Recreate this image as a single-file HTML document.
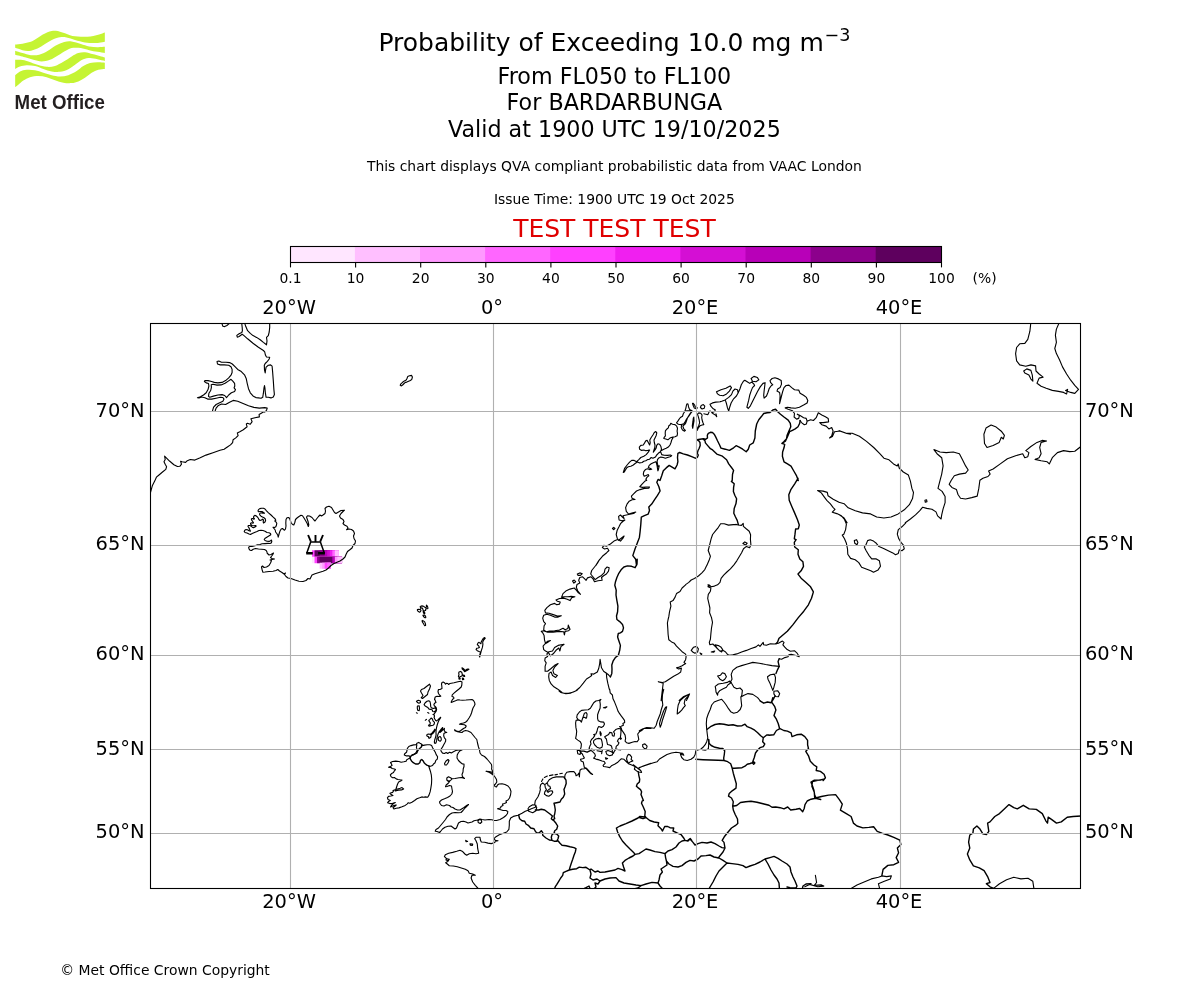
<!DOCTYPE html>
<html lang="en"><head><meta charset="utf-8">
<title>Probability of Exceeding 10.0 mg m-3</title>
<style>
html,body{margin:0;padding:0;background:#fff;}
body{width:1200px;height:1000px;overflow:hidden;}
svg{display:block;will-change:transform;}
text{font-family:"DejaVu Sans","Liberation Sans",sans-serif;fill:#000;}
.t18{font-size:25px;}.t16{font-size:22.22px;}.t14{font-size:19.44px;}.t10{font-size:13.89px;}
.mid{text-anchor:middle;}.end{text-anchor:end;}
.logo{font-family:"Liberation Sans","DejaVu Sans",sans-serif;font-weight:bold;fill:#231f20;}
.grid{stroke:#b0b0b0;stroke-width:1.1;fill:none;}
.coast{stroke:#000;stroke-width:1.12;fill:none;stroke-linejoin:round;stroke-linecap:round;}
.border{stroke:#000;stroke-width:1.4;fill:none;stroke-linejoin:round;stroke-linecap:round;}
</style></head><body>
<svg width="1200" height="1000" viewBox="0 0 1200 1000">
<rect width="1200" height="1000" fill="#fff"/>
<g id="logo">
<path d="M15.17,44.50 C16.39,44.36 19.89,44.11 22.50,43.67 C25.11,43.22 28.33,42.76 30.83,41.83 C33.33,40.90 35.42,39.33 37.50,38.08 C39.58,36.83 41.67,35.31 43.33,34.33 C45.00,33.36 46.11,32.81 47.50,32.25 C48.89,31.69 50.28,31.24 51.67,31.00 C53.06,30.76 54.44,30.72 55.83,30.83 C57.22,30.94 58.47,31.25 60.00,31.67 C61.53,32.08 63.33,32.75 65.00,33.33 C66.67,33.92 68.33,34.67 70.00,35.17 C71.67,35.67 73.19,36.06 75.00,36.33 C76.81,36.61 78.75,36.78 80.83,36.83 C82.92,36.89 85.42,36.81 87.50,36.67 C89.58,36.53 91.39,36.36 93.33,36.00 C95.28,35.64 97.25,35.08 99.17,34.50 C101.08,33.92 103.89,32.83 104.83,32.50 L104.83,41.67 C103.89,41.83 101.08,42.43 99.17,42.67 C97.25,42.90 95.69,43.11 93.33,43.08 C90.97,43.06 88.06,43.01 85.00,42.50 C81.94,41.99 78.06,40.83 75.00,40.00 C71.94,39.17 69.17,37.96 66.67,37.50 C64.17,37.04 62.22,36.94 60.00,37.25 C57.78,37.56 55.83,38.22 53.33,39.33 C50.83,40.44 47.64,42.39 45.00,43.92 C42.36,45.44 40.14,47.32 37.50,48.50 C34.86,49.68 31.67,50.72 29.17,51.00 C26.67,51.28 24.83,50.69 22.50,50.17 C20.17,49.64 16.39,48.22 15.17,47.83Z" fill="#c5f433"/>
<path d="M15.17,50.83 C16.39,51.21 19.89,52.36 22.50,53.08 C25.11,53.81 28.06,54.89 30.83,55.17 C33.61,55.44 36.39,55.44 39.17,54.75 C41.94,54.06 44.72,52.53 47.50,51.00 C50.28,49.47 53.06,47.08 55.83,45.58 C58.61,44.08 61.53,42.69 64.17,42.00 C66.81,41.31 68.89,41.10 71.67,41.42 C74.44,41.74 77.92,43.08 80.83,43.92 C83.75,44.75 86.39,45.86 89.17,46.42 C91.94,46.97 94.89,47.18 97.50,47.25 C100.11,47.32 103.61,46.90 104.83,46.83 L104.83,53.08 C103.61,52.87 100.11,52.32 97.50,51.83 C94.89,51.35 91.94,50.79 89.17,50.17 C86.39,49.54 83.47,48.47 80.83,48.08 C78.19,47.69 75.69,47.49 73.33,47.83 C70.97,48.18 69.17,48.94 66.67,50.17 C64.17,51.39 61.11,53.57 58.33,55.17 C55.56,56.76 52.78,58.71 50.00,59.75 C47.22,60.79 44.44,61.42 41.67,61.42 C38.89,61.42 36.11,60.44 33.33,59.75 C30.56,59.06 28.03,58.08 25.00,57.25 C21.97,56.42 16.81,55.17 15.17,54.75Z" fill="#c5f433"/>
<path d="M15.17,59.75 C16.11,59.75 18.64,59.47 20.83,59.75 C23.03,60.03 25.56,60.58 28.33,61.42 C31.11,62.25 34.44,63.85 37.50,64.75 C40.56,65.65 43.75,66.63 46.67,66.83 C49.58,67.04 52.22,66.83 55.00,66.00 C57.78,65.17 60.56,63.43 63.33,61.83 C66.11,60.24 69.17,57.88 71.67,56.42 C74.17,54.96 76.11,53.78 78.33,53.08 C80.56,52.39 82.50,52.04 85.00,52.25 C87.50,52.46 90.03,53.46 93.33,54.33 C96.64,55.21 102.92,56.97 104.83,57.50 L104.83,61.00 C103.61,60.72 99.97,59.82 97.50,59.33 C95.03,58.85 92.36,58.08 90.00,58.08 C87.64,58.08 85.56,58.43 83.33,59.33 C81.11,60.24 79.17,61.83 76.67,63.50 C74.17,65.17 71.11,67.94 68.33,69.33 C65.56,70.72 62.78,71.49 60.00,71.83 C57.22,72.18 54.44,71.90 51.67,71.42 C48.89,70.93 46.11,69.82 43.33,68.92 C40.56,68.01 37.78,66.62 35.00,66.00 C32.22,65.38 29.17,65.10 26.67,65.17 C24.17,65.24 21.92,65.79 20.00,66.42 C18.08,67.04 15.97,68.50 15.17,68.92Z" fill="#c5f433"/>
<path d="M15.17,75.17 C15.97,74.54 18.08,72.32 20.00,71.42 C21.92,70.51 24.17,69.96 26.67,69.75 C29.17,69.54 32.22,69.68 35.00,70.17 C37.78,70.65 40.56,71.83 43.33,72.67 C46.11,73.50 48.89,74.54 51.67,75.17 C54.44,75.79 57.22,76.42 60.00,76.42 C62.78,76.42 65.56,76.07 68.33,75.17 C71.11,74.26 74.17,72.53 76.67,71.00 C79.17,69.47 81.11,67.32 83.33,66.00 C85.56,64.68 87.64,63.71 90.00,63.08 C92.36,62.46 95.03,62.32 97.50,62.25 C99.97,62.18 103.61,62.60 104.83,62.67 L104.83,68.92 C103.75,69.06 100.53,69.12 98.33,69.75 C96.14,70.38 93.89,71.35 91.67,72.67 C89.44,73.99 87.22,76.21 85.00,77.67 C82.78,79.12 80.56,80.51 78.33,81.42 C76.11,82.32 74.17,82.88 71.67,83.08 C69.17,83.29 66.11,83.15 63.33,82.67 C60.56,82.18 57.78,81.07 55.00,80.17 C52.22,79.26 49.44,77.94 46.67,77.25 C43.89,76.56 41.11,76.00 38.33,76.00 C35.56,76.00 32.50,76.49 30.00,77.25 C27.50,78.01 25.28,79.33 23.33,80.58 C21.39,81.83 19.69,83.64 18.33,84.75 C16.97,85.86 15.69,86.83 15.17,87.25Z" fill="#c5f433"/>
<text class="logo" x="14.6" y="108.8" font-size="19.5" textLength="90.3" lengthAdjust="spacingAndGlyphs">Met Office</text>
</g>
<text class="t18 mid" x="614.4" y="51">Probability of Exceeding 10.0 mg m<tspan font-size="17.5" dx="0.8" dy="-10.4">−3</tspan></text>
<text class="t16 mid" x="614.4" y="83.8">From FL050 to FL100</text>
<text class="t16 mid" x="614.4" y="110.1">For BARDARBUNGA</text>
<text class="t16 mid" x="614.4" y="136.5">Valid at 1900 UTC 19/10/2025</text>
<text class="t10 mid" x="614.4" y="170.8">This chart displays QVA compliant probabilistic data from VAAC London</text>
<text class="t10 mid" x="614.4" y="203.9">Issue Time: 1900 UTC 19 Oct 2025</text>
<text class="t18 mid" x="614.4" y="237" style="fill:#e00000">TEST TEST TEST</text>
<rect x="290.50" y="246.5" width="651.00" height="16.0" fill="#ffe6ff"/>
<rect x="354.90" y="246.5" width="586.60" height="16.0" fill="#ffbfff"/>
<rect x="420.00" y="246.5" width="521.50" height="16.0" fill="#ff99ff"/>
<rect x="485.10" y="246.5" width="456.40" height="16.0" fill="#ff66ff"/>
<rect x="550.20" y="246.5" width="391.30" height="16.0" fill="#ff40ff"/>
<rect x="615.30" y="246.5" width="326.20" height="16.0" fill="#f01ff0"/>
<rect x="680.40" y="246.5" width="261.10" height="16.0" fill="#d40fd4"/>
<rect x="745.50" y="246.5" width="196.00" height="16.0" fill="#b800b8"/>
<rect x="810.60" y="246.5" width="130.90" height="16.0" fill="#8c008c"/>
<rect x="875.70" y="246.5" width="65.80" height="16.0" fill="#5e005e"/>
<rect x="290.5" y="246.5" width="651.0" height="16.0" fill="none" stroke="#000" stroke-width="1.1"/>
<line x1="290.50" y1="262.5" x2="290.50" y2="267.4" stroke="#000" stroke-width="1.1"/>
<text class="t10 mid" x="290.50" y="282.8">0.1</text>
<line x1="355.60" y1="262.5" x2="355.60" y2="267.4" stroke="#000" stroke-width="1.1"/>
<text class="t10 mid" x="355.60" y="282.8">10</text>
<line x1="420.70" y1="262.5" x2="420.70" y2="267.4" stroke="#000" stroke-width="1.1"/>
<text class="t10 mid" x="420.70" y="282.8">20</text>
<line x1="485.80" y1="262.5" x2="485.80" y2="267.4" stroke="#000" stroke-width="1.1"/>
<text class="t10 mid" x="485.80" y="282.8">30</text>
<line x1="550.90" y1="262.5" x2="550.90" y2="267.4" stroke="#000" stroke-width="1.1"/>
<text class="t10 mid" x="550.90" y="282.8">40</text>
<line x1="616.00" y1="262.5" x2="616.00" y2="267.4" stroke="#000" stroke-width="1.1"/>
<text class="t10 mid" x="616.00" y="282.8">50</text>
<line x1="681.10" y1="262.5" x2="681.10" y2="267.4" stroke="#000" stroke-width="1.1"/>
<text class="t10 mid" x="681.10" y="282.8">60</text>
<line x1="746.20" y1="262.5" x2="746.20" y2="267.4" stroke="#000" stroke-width="1.1"/>
<text class="t10 mid" x="746.20" y="282.8">70</text>
<line x1="811.30" y1="262.5" x2="811.30" y2="267.4" stroke="#000" stroke-width="1.1"/>
<text class="t10 mid" x="811.30" y="282.8">80</text>
<line x1="876.40" y1="262.5" x2="876.40" y2="267.4" stroke="#000" stroke-width="1.1"/>
<text class="t10 mid" x="876.40" y="282.8">90</text>
<line x1="941.50" y1="262.5" x2="941.50" y2="267.4" stroke="#000" stroke-width="1.1"/>
<text class="t10 mid" x="941.50" y="282.8">100</text>
<text class="t10" x="972.6" y="282.8">(%)</text>
<clipPath id="mapclip"><rect x="150.5" y="323.5" width="930.0" height="565.0"/></clipPath>
<g clip-path="url(#mapclip)">
<g id="cells">
<rect x="312.00" y="550.3" width="26.90" height="6.90" fill="#ff40ff"/>
<rect x="314.54" y="550.3" width="24.36" height="6.90" fill="#5e005e"/>
<rect x="319.62" y="550.3" width="19.28" height="6.90" fill="#8c008c"/>
<rect x="324.70" y="550.3" width="14.20" height="6.90" fill="#b800b8"/>
<rect x="327.24" y="550.3" width="11.66" height="6.90" fill="#d40fd4"/>
<rect x="329.78" y="550.3" width="9.12" height="6.90" fill="#f01ff0"/>
<rect x="332.32" y="550.3" width="6.58" height="6.90" fill="#ff66ff"/>
<rect x="334.86" y="550.3" width="4.04" height="6.90" fill="#ffbfff"/>
<rect x="312.00" y="556.7" width="30.04" height="6.50" fill="#ffe6ff"/>
<rect x="314.54" y="556.7" width="27.50" height="6.50" fill="#ff40ff"/>
<rect x="317.08" y="556.7" width="24.96" height="6.50" fill="#8c008c"/>
<rect x="319.62" y="556.7" width="22.42" height="6.50" fill="#5e005e"/>
<rect x="332.32" y="556.7" width="9.72" height="6.50" fill="#b800b8"/>
<rect x="334.86" y="556.7" width="7.18" height="6.50" fill="#ff99ff"/>
<rect x="337.40" y="556.7" width="4.64" height="6.50" fill="#ffbfff"/>
<rect x="319.62" y="562.7" width="11.22" height="6.00" fill="#ffbfff"/>
<rect x="322.16" y="562.7" width="8.68" height="6.00" fill="#ff99ff"/>
<rect x="324.70" y="562.7" width="6.14" height="6.00" fill="#ff40ff"/>
<rect x="327.24" y="562.7" width="3.60" height="6.00" fill="#ff66ff"/>
</g>
<path class="coast" d="M222,323.9 222.9,326.2 224.7,326.6 226.9,325.5 228.9,323.9
M244.9,323.9 245.8,326.6 247.6,330.7 250.3,333.4 253,335.6 256.6,337.4 260.2,339.7 263.4,342.4 266.5,344.8 267,341 266.5,337.4 268.3,335.6 269.2,332 269.7,327.5 269.7,323.9
M241.8,323.9 242.2,327.5 242.4,330.7 241.8,332.5 239.1,333.8 236.8,335.4 237.3,337.2 239.1,336.5 242.2,334.3 244,335.6 247.6,338.8 253,343.3 258.4,347.3 263.4,350.5 264.7,351.8 265.4,355 266.5,357 269.7,357.2 269.2,359 267.4,361.3 265.2,363.5 264.3,365.3 264.5,369.8 265.2,373 265.6,369.8 266.1,367.1 268.3,365.3 270.6,364.9 272.1,366.2 272.6,371.6 273.3,380.6 273.9,389.6 274.4,394.6 273.3,397 271,397.9 268.3,397.3 266.1,397.3 265.4,393.2 264.9,387.8 264.5,385.6 264,387.8 263.4,393.2 262.7,397.3 261.1,398.2 258.4,397.9 256.2,397.7 253,395.9 250.3,392.8 248.5,388.7 247.2,383.3 246.3,378.8 244.5,374.8 241.3,371.6 237.7,369.4 235,366.7 232.3,364 229.6,362.6 226,362.2 221.5,362.2 218.8,361 217,361.5 217.5,364 220.2,364.9 224.2,364.9 228.7,365.3 231,366.7 232.1,369.4 232.1,372.5 231,375.2 228.7,377.9 225.6,380.6 222,382.4 217.9,382.9 214.3,382.4 211.6,381.5 208,380.6 204.9,380.6 204.4,381.5 206.2,382.9 208.5,383.5 208.9,386 208,389.6 206.2,392.8 203.5,395 200.4,396.8 197.4,397.7 199,397.9 201.7,397 204.9,397.7 207.6,399.1 211.6,399.1 216.1,398.2 220.2,397.3 222.9,397.5 224,399.1 222.9,401.3 219.7,402.7 216.1,404.5 213.6,407.2 212.5,410.8
M231,379.3 232.8,381.1 234.6,383.3 234.8,386 234.1,387.8 235.5,389.6 234.6,391.4 231.4,392.8 228.7,395 226.5,397.7 224.7,395.5 222,394.6 217.9,395 213.4,396.1 209.8,397.3 208.5,396.4 208.9,393.2 210.7,390.5 211.4,387.4 211.2,384.7 213,384.2 217,385.1 221.1,384.9 225.1,383.3 228.3,381.1Z
M215.2,410.8 216.1,408.1 218.4,405.4 221.5,404 225.6,404.5 229.6,402.2 233.2,400.4 237.7,401.3 243.1,403.6 248.5,405.8 253.9,407.4 259.3,408.1 264.7,407.6 267.2,408.1 266.5,410.3 264.7,412.1
M263.8,411.7 259.1,414.6 259.4,416.9 255,417.7 250.9,418.7 252.1,421.6 250.3,424.3 247.4,423.3 246.3,423.9 247.1,426.8 243.3,429.8 239.8,431.7 237.3,432.9 238.1,435.6 235.8,437.9 233.1,439.7 232.6,442.6 230.5,444.9 227,447.3 224.1,449.2 220,450.2 213,452.7 206,455.1 200.2,457.8 194.9,460.1 190.3,459.5 187.3,460.7 185.6,462.4 182.1,461.8 180.6,461.3 181.5,464.2 179.8,466.3 177.4,466.5 173.9,464.8 169.8,461.3 166.3,457.8 164.6,456.2 165.2,459.5 164,461.8 165.2,464.2 166.6,466.7 165.8,469.4 162.8,471.8 159.3,474.7 156.4,477.2 154.7,481.1 152.3,485.8 151.2,489.8 150.4,492.8
M263.5,508.2 265,509 266.5,510.8 268.5,512.8 271,515 273.2,517.2 275.2,519 275.8,520.2 274.8,521 276,522 276.8,523.2 276.5,525 275.8,526.8 274.5,527.5 273,527.2 274,528.5 275.2,530 275.6,532 276.8,533.5 277.8,535.2 278.2,537.2 278.5,536 279.2,533.5 280,531 281.2,529 282.5,528.5 283.5,529.5 284.5,530.2 285.5,529 286,526 285.8,523 286,519.5 287,517.8 288.5,517.5 289.3,518 290,519.5 291,522.5 292.5,524.5 293.8,525 294.8,522.5 295.5,519.5 297,518 299,516.5 301,515.2 302.5,515.8 304,518 305.5,520.5 307.2,523.5 308.3,526.5 308.8,524.8 308.2,522 307.2,519 306.5,517 307.5,515.8 309.5,516 312,517.5 314,520 315,521 316.5,519 318.5,516.5 320,515 321.5,516 323,515 325,513.5 325.5,511 325,508.5 326.5,507 329,506.2 331.5,507.5 333,510 334.5,512.5 336,513.5 338.5,512 341,510.5 344.5,510.2 343,511.5 341,513.5 339.5,516 340.5,518 343,519.5 344,521.5 343,523.5 344.5,525 347,526.2 348,528 346.5,529.8 349,529 351.5,529.5 353.5,531 354.5,533.5 353.5,536 354,538.5 355.5,541 355,543.5 353,545.5 352,548 349.5,550 347.5,551.5 346,554.5 345,557 343,559 340,561 337,562.2 334,563.5 331,565.5 328.5,568 326,570 323,571.2 319,572.5 315,573.8 312,575 311,577 310,579 308,578.5 306,580.5 303,581.5 299,581.2 295,580 291,578.5 288,578 286,576.5 284.5,574.5 285.5,573 284,574 282,572.5 279.5,571 277.8,569.5 276,570.5 273,571.2 269,571.5 265,572 262.8,572.2 262.2,570 261.5,567 262.5,566 264,567.5 266.5,567 269,565.5 270.5,563 271.5,560.5 270,560 272,559.5 274.5,559 272,558.5 270.5,557.5 272.5,555 273.5,553 271,554.5 269,555 267.5,553.5 267.2,553.5 267,552 266.2,550.5 264.5,549.5 261.5,549.2 258.5,549 255.5,548.5 253.2,549.2 251.5,550.5 250,550.2 249,548.8 248.6,547.2 249.8,546.5 252,546.4 255,545.8 257.5,544.8 260,544.5 262,543.8 265,543.6 268,543.4 270,543.5 271.2,543 271.8,541.5 271.5,540 270.5,540.8 269.2,541.4 267,541.2 265,540.5 264.2,539.5 265.2,538.2 267.2,537 269.2,535.8 270.8,534.8 270.5,533.5 269,532.8 267,532.5 265,531.2 263,530.5 261,530.2 259,530.5 257,531.5 254.5,532.5 252.2,533.5 250.5,534.4 249,534 247,533 245,532.5 244.2,531.5 244.8,530.2 246,529.5 247.5,529.8 249,530.8 250.5,531.2 249.5,529.2 249,527.8 248,526.5 248.2,525.5 249.8,525.5 251.2,526.2 252.2,527.2 253.5,527.8 255,527 256.2,526 255.5,525.5 253.8,525.8 252,525.5 250.8,524.5 250.5,523.2 251.8,522.8 252.8,523.2 253.5,522.8 252.5,521.2 251.5,520 251.4,518.8 252.5,518.5 253.8,519.2 254.5,518.8 253.5,517.5 253.8,516.2 254.8,515.4 256,515.8 257.2,516.8 258.2,518 258.9,519.5 260,520.5 261.5,520 262.5,519.2 263.5,520 263.2,521.8 263.5,523 265,522 265.6,520.5 265.2,518.8 264,517.8 262.5,517.1 261,516.2 260,515.2 259.5,514 260.2,513 261.5,512.9 263,513.2 264.5,513.2 263.5,512.5 262,511.5 260,511.5 258.6,511.8 258,511 258.5,509.6 259.8,508.6 261.5,508.2Z
M411.6,375.4 412.4,377 411.8,379.4 410.4,380.5 408.6,381.2 406.8,382.1 405.3,382.4 404.1,383.5 402.6,385 401.4,385.9 400.2,385.3 401.1,383.6 402.6,382.3 404.4,380.9 406.2,380 407.1,378.2 407.7,376.6 409.5,375.8Z
M420.2,606.5 422,605.9 423.5,606.3 425,607.4 425.9,608.1 426.4,606.9 426.4,605.1 427.1,605.7 427.7,606.9 427.9,608.4 427.1,608.7 426.2,608.7 425.6,609.6 425.6,610.5 424.1,610.7 423.2,610.5 422.8,609 422.3,608 421.4,607.8 420.8,608.7 420.5,607.5Z
M417.4,609.6 418.7,609.3 420.2,609.6 421,610.4 420.5,611.6 419.6,612.3 418.4,611.6 417.5,610.7Z
M423.2,611.4 424.4,612 424.9,613.2 424.1,613.7 423.4,612.6Z
M422.9,615.2 424.4,615 425.6,616.2 425.8,617.7 424.7,617.7 423.5,616.5Z
M422.2,620.4 423.5,620.9 424.7,621.9 425.5,624 425.6,625.5 424.7,625.7 423.8,624.3 422.9,622.8 422.2,621.6Z
M479.7,657 480.3,654.6 481.2,651 482.4,647.4 482.9,644.4 482.7,642 483.6,640.2 485.1,638.4 484.5,637.5 483.3,638.4 482.1,640.2 481.2,642 480.9,643.8 479.7,642.9 478.8,642.3 477.9,643.2 477.3,644.7 478.5,645.6 479.4,647.4 478.2,648 476.7,648.3 476.1,649.5 477.3,650.7 479.1,651.6 480.6,652.2 480,654 479.4,656.1Z
M483.5,640.1 485.2,638.2
M459,672 460.5,671.4 461.7,672.3 462.3,674.1 462,675.9 460.5,676.5 459,677.4 458.4,676.2 459,674.7 458.7,673.2Z
M462.3,678 463.5,678.3 463.8,679.5 462.6,679.8Z
M459,678 460.2,678.3 459.9,679.2 458.9,678.9Z
M462,667.8 463.5,668.7 464.7,670.2 464.4,671.4 465,670.8 466.2,669.6 468,668.9 468.9,669.3 467.4,670.2 465.9,671.1 464.7,671.7 463.5,670.2 462.3,669Z
M462.9,675 464.4,675.3 464.7,676.5 463.5,676.2Z
M441.5,684 442,682.5 443.2,682 444.8,683 445.5,684.2 446.5,683.3 447.8,683.5 448.5,684.5 450,683.5 454,682.8 458,681.8 460.5,681.2 462,682 461.8,685 461.2,687 459,689 456.5,691 454,693.2 452.2,694.8 452,696.5 453.5,697 454,698.2 452.5,699.5 451.5,701.2 451.2,702.5 453,701.8 455.5,700.8 458,699.7 460,700 462.5,700.2 466,700 469.5,699.7 472,699.5 473.5,700.5 474.5,702.2 475,704.2 474.2,706 473,708 472.2,710.5 471.5,713 470.5,715.5 469,718 467.2,720.8 465.5,722.2 463.5,723 461,723.5 459.5,724.2 462,724.5 464.5,724.8 466.2,726 465.5,727.5 463.5,728.5 461.8,729.8 460.5,730.8 459,731.5 456.5,731 454.5,729.8 455,730.8 457.5,731.8 460,732.2 462,732.5 463.5,731.2 465.5,730.5 468,731 471,732.5 473,735 475,737.5 476.8,739.5 477.5,743 478.5,747 479,748.5 479.5,750 480,753 481.5,755 484.5,756.5 487,759 489.5,762 491.5,764.5 491.8,767 491.6,769 492.5,771 493.8,774 491.5,772 489,771.5 486,771.2 489,772.2 491.2,773.5 493.5,775.2 495,777 496.5,779.5 496.8,782 495.5,784 494.2,785 495,786.5 496.5,787 497.5,785 499,784 502,783.8 505,784.5 508,786 510,788.5 511,791.5 510.5,795 509.5,798 508,800 506,801 506.5,802.5 504.5,803.5 502.5,804 503,805.5 501,806.5 500.5,808 497.5,808.8 500,809.5 503,810.5 506,810.5 507.8,811.5 507.5,813.5 506,815.5 503.5,817.5 500,819.5 496.5,820.5 494,820.5 492,819.8 489,819.5 485,820 482,819.5 480,819 477.5,820 474,820.8 472,822 470,822.5 468,823 466,822 463.5,821.2 461,821.5 458.5,823 457.5,825.5 456.5,828 455,829 453,827.5 451,826 448,826.2 445,827.2 442.5,829 440.5,831.5 439.5,832.5 437,831.5 435.2,831.2 436,829.5 438.5,828 441,825 443.5,822 445.5,819.5 447,817 449.5,814.5 452,813 455,812.5 458.5,812.8 461,812.5 463,810.5 465.5,807.5 468.5,804.5 467,805.2 464,807.5 460,810 457.5,810 455,809 453,807.5 451,807 449.5,805.5 446.5,804.8 444,806 441.5,805.5 440,803.5 439.5,801.8 441.5,800 444.5,798.8 447.5,797.5 450,796 451.8,794 452.5,791.5 452,789 451.5,786 449.5,785.5 447,786.5 445.5,786.8 446.2,785 448.5,783 450,781 448.5,781.5 446.8,780 446.8,778 448.5,776.8 450.5,777.8 452,778.8 455,778.5 459,777.8 461.5,777.5 464.5,778.5 462.5,776.8 462,774.5 463,772 463.2,769 464,766.5 464,764 462.5,764 460.5,762.5 458.5,760.5 457,758 457.2,755 458.5,752.5 460,750.8 462,750 458.8,749.9 455.8,750.5 453.4,751.7 451.3,752.9 449.5,752.3 447.7,753.5 446.2,752.5 444.4,753.5 442.6,753.1 441.2,751.4 440.8,749.9 441.4,748.7 442.6,746.9 443.7,744.8 444.7,743 445.6,741.2 445.7,739.4 444.4,737.9 443.7,735.8 443.9,733.5 445.1,732.7 446.8,732.5 445,731.7 444.2,730.4 444.4,728.4 443.1,729.7 441.4,731.3 439.9,732.5 440.8,730.7 442.5,728.6 442.7,727.5 441.4,728.9 438.9,732.2 438.1,734 437.4,736.1 436.9,738.5 436.6,740.9 436,742.9 434.9,743.4 434.3,742.1 434.7,740 435.5,737.3 436.1,734.9 436,732.8 436.1,730.1 436.6,727.4 437.2,725 438.1,722.3 439,720.2 440.2,718.4 440.7,717.3 439.6,718.1 438.1,719.6 436.6,720.9 435.7,720.5 434.8,719 434.1,717.5 434.5,716 434.2,715.1 433,714.5 434.2,713.9 435.1,712.7 436,711.5 436.6,709.7 436.3,707.9 435.4,706.7 434.3,705.8 433.9,704.3 434.8,703.1 436,702.5 435.4,701 434.8,699.5 434.5,699.5 435.2,697 437,696.2 439.5,696.5 440.8,696.2 439.5,695 438.5,693.5 438,691.5 438.5,689.5 440,689.5 442,688.5 441.8,686Z
M446.8,780 448.5,781 450.5,780.5 452,778.8
M445,765 444.5,763.5 446,761 448,759.5 449,760.5 448,763 446.5,765Z
M478,820.8 479.2,819.5 481.2,820 481.8,822 480.2,823.5 478.2,822.5Z
M428.8,720.5 430,719.3 431.1,718 432.4,719 433,720.8 434.5,722.3 434.2,724.1 433,725.3 430.9,725.6 429.1,726.2 428.5,725.3 430,724.4 430.3,722.9 429.4,721.7Z
M428.8,700.7 430,701.6 430.5,704 430.7,706.4 431.5,707.9 433.3,708.5 435.1,707.9 436.1,709.1 435.7,710.6 434.2,711.8 432.7,711.5 432.4,710 430.9,709.4 429.1,709.1 427.9,707.6 426.4,706.7 424.9,705.8 424.1,704.6 425.2,702.8 427,701.3Z
M438.7,737 440.2,736.5 441.1,737.9 441.3,740 440.2,741.3 438.7,740.6 438.1,738.8Z
M434.8,729.2 433.6,731 432.1,732.8 430.9,734 431.5,734.6 433,733.4 434.5,731.3 435.1,729.8Z
M427,734.6 428.5,734 430,734.3 431.2,735.2 430.9,737 429.7,738.2 428.5,737.9 428.8,736.7 427.6,736.4 426.7,735.8Z
M416.5,701.3 418.3,700.3 420.4,701 420.5,702.5 418.9,703.3 417.4,702.5Z
M417.4,706.1 419.2,705.8 419.5,708.2 419.2,710.6 417.7,710.3 417.3,708.2Z
M416.4,712.8 417.3,713.2
M427.7,712.5 428.9,713.2
M425.3,720.2 426.5,719.4
M429.5,684.2 430.5,686 429.5,689 428,692 427.5,694.5 425,696.5 422.5,698.5 421.2,697.8 423,695.5 421.5,693 420.5,691 421.5,689.5 424,688.5 426.5,686.5Z
M418.7,742.4 420,743.3 421.8,744.2 422.3,745.6 424.5,745.1 427.2,744.7 429.9,744.7 431.7,745.6 432.6,747.8 434,750.1 435.3,752.3 436.2,754.6 437.6,756.8 437.3,759.1 435.8,760.4 435.1,762.7 433.5,764 432.6,765.4 430.4,766.3 428.8,766.3 429.5,768.5 430.4,771.2 431.3,774.8 431.7,779.3 431.5,783.8 430.8,788.3 430.1,791.9 429,795.1 427.7,797.3 425.4,796.9 423.6,797.3 421.8,796.9 419.6,797.8 416.9,798.7 414.6,800.5 411.9,802.3 409.7,803.2 408.3,802.7 407,804.1 405.2,805.4 402,806.8 398.9,807.9 396.2,808.3 393.9,809 393,807.7 394.8,806.3 396.2,805 393.9,805.6 391.7,806.5 390.5,807 391.7,805 393.9,803.2 395.3,802.5 392.6,803.2 389.9,803.6 387.6,802.7 388.5,801.4 390.3,800.5 388.1,799.6 387.4,797.8 388.5,796.4 390.8,796 393,795.5 391.2,794.6 389.9,793.3 392.6,792.4 393.5,791 393,790.6 396.6,789.2 400.2,788.3 402,787.6 403.6,789 401.6,789.9 398.4,790.1 395.3,791 395.9,789.2 396.6,787 397.5,784.3 398.6,782 400.7,781.1 402,780 400.2,779.8 398,779.5 396.2,778.9 394.4,777.5 392.6,777.7 391,776.6 390.3,774.8 391.7,773.5 393.5,772.6 394.4,770.8 395.5,769.6 394.4,769 392.1,768.5 391.2,767.6 388.5,767.2 390.8,766.3 392.1,765.4 391.2,763.6 390.5,762.4 392.6,761.5 395.7,761.1 398.9,761.5 401.1,762.2 403.8,761.8 406.1,761.3 406.5,760 407.9,759.1 409.7,758.2 410.1,756.8 409.2,755.9 406.5,755.9 404.3,755 404.7,753.7 406.5,752.3 407,750.5 407.4,748.3 408.8,746.5 411,745.6 413.7,744.9 416,744.7 416.9,743.3Z
M416.9,744.7 416.4,747.4 417.3,750.1 416,752.8 413.7,754.6 411.9,755
M478.3,888.7 475.3,885.3 472.7,882 471.1,878 472,875.3 475.3,875.3 472.7,874 469.3,873.3 468,870.7 465.3,869.3 461.3,868 457.3,866.7 453.3,866 449.3,865.7 447.3,864 445.7,862.7 448,861.3 449.3,859.3 446.7,858.7 444.4,856.7 445.3,854.7 448.7,853.3 452.7,852.4 456.7,851.3 460,850.3 462.7,851.6 464.9,854 466.7,855.3 469.3,853.7 472.7,853.3 476,853.7 478.7,853.3 477.7,848.7 477.3,844 476,840.7 474.7,838.7 476,837.3 480,837.3 480.4,840 481.3,842 484.7,842.3 488,843.1 491.3,843.6 494,842.7 496,841.3 498,840.7 495.3,840.4 494,838.7 496,836.7 499.3,834.7 503.3,833.3 506.7,832 508.9,829.3 509.3,825.3 509.3,821.3 510.7,818 513.3,816.4 518,815.3 522,813.3 525.3,811.3 528.7,810 531.3,808.7 535.3,807.3 536,805.3 532.7,804.7 529.3,806.7 528,808.7 528.7,811.3 532.7,812.7 536,810.7 536.7,807.3 534.7,804.7 535.3,800.7 538,796.7 539.6,792.7 540.4,789.3
M465.7,840.4 467.6,841.5 466,841.7Z
M470,843.9 472.7,844.1 472.4,845.5 470.3,845.2Z
M446.3,858.5 448.7,859.3 448,860.7 446,859.9Z
M540.4,789.3 540,787.9 540.7,784.6 542.6,783 544.8,784.6 547,783 549.2,779.7 552.5,777.8 556.3,776.9 560.2,776.7 563.5,776.9 564.6,778 565.1,774.7 566.8,772.3 570.1,771.6 573.9,771.6 575.6,773.6 576.1,775.8 577.8,774.7 578.9,773.1 579.4,776.9 579.6,773.6 580,770.3 581.6,769 584.4,768.7 586,768.3 587.3,769.8 589.3,772 591,773.8 592.6,774.5 590.4,772.7 588.2,770.1 586.6,768.3 584.4,767.6 583.8,764.8 583.3,762.1 581.1,761 580.5,759.3 582.7,758.8 584.4,758 583.3,756 582.2,753.8 580.5,752.7 580,750.7 581.1,747.2 581.4,743.9 580.3,741.7 577.8,740.1 575.6,738.4 576.3,735.1 576.7,731.3 575.9,727.4 575.6,723 576.1,720.3 578.3,719.9 576.7,717.5 577.2,714.8 579.4,712 581.6,710.4 584.9,710 588.2,709.8 590.4,708.2 592.1,705.4 593.7,702.7 595.9,701 598.7,700.5 600.9,699.4 599.8,701 600.3,704.3 600.1,708.2 598.7,711.5 597.6,714.8 597.6,718.6 598.3,720.8 600.9,721.9 603.6,722.1 604.5,724.1 603.4,726.3 601.4,727.4 598.7,726.5 597.6,728.5 597,731.3 595.9,734 593.7,734.6 594.8,735.7 593.2,737.9 591.5,739.5 590.4,741.7 591,743.9 589.9,746.1 589.1,748.3 590.4,750 592.6,751.6 594.8,753.8 595.4,756 593.7,758.2 595.9,759.1 599.2,759.9 602,761 604.2,761.5 605.3,763.2 603.1,765.4 603.6,766.5 606.9,767 609.7,767.6 611.9,765.4 614.6,764.3 617.4,762.6 619.6,760.4 621.2,758.8 624,759.3 626.2,761.5 628.4,763.7 631.1,764.8 633.9,765.9 636.6,767.6 639.4,769.2 641,770.9
M541.5,781.5 542.9,778.9
M544.4,777.5 547.3,776.1
M549.5,775.6 553,774.9
M555,774.9 557.4,774.4
M559.8,773.8 562.4,773.3
M544.8,784.6 545.3,787.4 546.4,789.6 544.8,791.8 544.4,794 546.4,795.6 548.8,796.2 551.4,794.5 552.8,792.3 552.1,790.7 549.7,791 548.1,792.3 547,791.2 548.8,789.6 550.6,788.5 549.9,786.3 548.1,785.7 547.5,783.5
M577.2,750.5 577.8,753.8 580,754.4 581.1,752.2 579.4,750.3Z
M578.3,719.9 580.3,720.6 581.4,722.1 582.2,719.5 583.3,716.4 584.4,713.3 586.2,712.6 587.1,714 586.7,717.3 586,718.4 584.7,717.3 582.9,717.7
M593.7,740.6 595.9,739 598.7,738.4 601.2,739 602,741.7 602.5,745 602,747.2 599.8,748.3 597,747.2 594.8,745 593.5,742.8Z
M604.7,736.8 606.4,735.7 608.6,734.6 609.7,732.4 611.9,732.9 612.4,735.7 614.1,736.2 614.6,733.5 613.5,731.8 615.7,729.6 618.5,728.5 620.7,728.7 621,731.8 620.7,735.1 620.3,737.9 618.5,739 617.4,741.2 619,742.8 617.9,745 616.3,746.1 615.7,749.4 614.1,751.6 613.5,753.3 612.4,752.2 612.2,748.9 611.5,746.1 609.7,745 607.5,744.5 606.9,741.7 606.4,739 605.3,737.9Z
M605.8,751.6 608,750.5 610.8,751.6 613,752.7 612.4,754.9 609.7,755.8 606.9,754.4Z
M615.7,749.1 620.7,750
M600.1,731.6 601.2,733.5 600.9,735.7 600.1,733.8Z
M603.4,707.8 606.9,706.7 605.3,708Z
M591.5,749.1 594.3,750.1
M597,750.8 601.6,751.6
M602.3,750 601.6,753.8
M605.4,757.8 607.6,758.6 606,759.3Z
M620.3,737.5 621.4,738.4 620.7,739.3Z
M609.7,689.4 610.2,692.8 612.4,695 613,698.8 614.6,702.1 615.7,704.9 616.8,707.6 617.9,710.9 619.6,713.7 621.2,715.9 622.9,718.1 624.5,720.3 624.7,722.5 622.9,723.6 623.4,725.2 621.2,726.3 619.6,726.5 621.2,728 621.8,730.2 623.4,732.4 625.1,735.1 625.6,738.4 625.1,741.2 626.7,742.8 628.9,743.4 632.2,742.3 635,741.5 637.2,741.7 638.8,739.5 638.3,736.8 637.7,734 639.4,731.8 642.1,730.2 643.8,728.5 647.1,728.3 650.9,728.5
M642.7,744.5 644.9,743.9 647.1,746.1 646.5,748.3 644.3,748.5 642.7,746.7Z
M628.4,754.4 630,754.9 631.7,757.1 631.1,759.3 632.8,761 630,762.1 628.4,763.2 627.3,761 626.5,758.8 627.3,756Z
M633.3,764.8 635,767 634.4,769.2 636.6,770.9 638.8,772 641.6,772.5 641,770.9 638.3,768.7 635.5,766.5Z
M638.3,768.3 643.2,766.1 650.9,763.3
M559.1,691.1 560.7,692.4 564,693.3 568.4,693.3 572.8,692.2 576.7,690.6 577.8,689.4
M609.6,689.6 609.2,688.9 607.8,683.2 606.7,677.6 606.4,673.2 603.6,671.3 601.5,667.8 600.1,659.4 599.7,663.6 598.7,668.5 597.3,672 593.8,674.1 591,673.7 591.7,675.5 588.9,677.6 586.5,679 583.3,683.2 579.8,687.5 575.6,691 570.7,693.1 565.8,693.8 562.3,692.8 560.2,691 557.4,688.9 553.9,686.8 551.1,683.9 549.3,680.4 548.7,676.9 549,673.4 551.1,672 552.5,675.5 555.7,677.4 557.4,675.5 553.9,673.7 552.9,670.6 554.6,667.1 558.1,663.6 554.6,665.3 551.1,668.5 547.6,671.3 545.1,671.3 545.1,666.4 546.2,662.9 544.8,660.8 545.1,658 547.6,656.6 546.9,653.8 549,651.7 552.5,651 554.6,647.5 558.1,645.4 564.1,644.3 560.9,646.6 559.9,651 558.8,648 556,650.3 553.2,653.8 550.4,655.9 548.3,652.4 545.5,651 543.7,649.6 543.1,646.1 544.8,644 548.3,641.9 550.4,640.5 547.6,641.2 545.5,643.3 544.5,639.8 544.1,635.6 542.7,632.8 541.3,631.4 543.4,630.7 547.6,632.1 553.2,632.1 558.8,631.4 563.7,631.7 564.4,634.9 565.1,631.4 568.6,630.7 570,629.3 568.3,625.1 567.9,628.6 565.1,629.7 563,628.3 559.5,630 554.6,630.7 549.7,631.1 546.2,631.7 543.7,630 544.1,625.8 545.5,623.7 543.7,621.6 542.7,618.1 543.7,615.3 546.9,614.3 550.4,615.3 554.6,617.1 558.1,617.1 561.3,615.7 557.4,616 553.2,614.6 549,613.2 545.5,612.9 544.8,610.4 546.9,607.6 550.4,604.8 554.6,603.4 556.7,604.8 559.5,604.1 560.2,602 557.4,601.3 556,599.9 559.5,598.5 563.7,598.1 567.2,599.2 570,600.6 571.7,597.8 574.9,596.7 571.1,596.4 567.9,596.7 564.4,596.7 561.6,597.1 563,593.6 565.8,591.1 570,589.1 574.2,588 576.3,590.1 578.4,592.9 580.5,594.3 577.7,590.8 576.3,587.3 577,584.5 579.8,583.1 578.7,580.3 579.8,577.5 582.6,576.8 584.7,578.9 586.1,580.3 587.5,577.9 591,576.8 593.1,578.9 594.5,581.7 598,580.7 602.2,580.3 601.5,577.5 603.6,575.7 606.4,574 608.5,571.2 609.2,567.7 607.1,567 605,569.1 604.3,572.6 601.5,575.4 598,577.5 595.2,579.6 592.7,576.5 590.7,574 591.7,570.5 594.5,567 597.3,563.5 599.7,559.3
M577.3,574 579.8,572.9 582.3,573.7 580.5,575.4 578.1,575.4Z
M572.5,581 574.2,580 575.6,581.7 573.9,583.1Z
M606.4,673.2 608.5,674.8 610.4,676.9
M685.6,584.9 682.1,588 680,591.5 676.5,593.6 675.1,597.1 673,600.6 670.2,602 670.9,606.2 669.5,611.8 668.8,616.7 668.1,619.5 667.4,623 667.8,628.6 668.1,634.2 668.8,639.8 671.6,641.9 674.4,643.3 676.5,646.1 679.3,648.9 682.1,651.7 685.6,654.1
M685.6,663.6 682.1,665.7 679.3,667.1 676.5,667.8 678.6,669 681.4,668.1 680.7,672 677.9,674.1 673.7,676.2 669.5,679 665.3,681.8 662.5,682.5 658.2,681.8 663.2,683.2 662.5,688.9 661.8,694.5 661.1,700.8
M623.3,472.5 624.6,468.3 627.1,465 629.6,462.1 631.7,460.4 634.2,460.4 636.7,461.7 638.8,459.6 640.8,457.5 643.8,456.2 646.2,454.6 648.3,452.1 649.6,450 647.9,450.4 645.8,450.8 643.8,450 641.7,450.4 639.6,449.2 639.3,447.1 640.8,445.4 643.3,445 644.6,442.9 645.8,440.8 647.1,440.4 648.3,442.5 649.6,445 650.2,442.9 649.8,440 651.2,437.5 652.9,435 654.3,432.5 655.8,431.5 656.8,432.9 656.2,435.4 655,437.9 654,440 654.3,442.5 655,445 654.8,447.5 654,450 653.3,452.1 655,450 656.2,447.9 656.7,445.4 657.9,443.8 659.6,444.2 660.8,446.2 661.5,449.2 660.4,451.7 658.3,453.3 656.7,455 655.4,457.1 652.9,458.3 651.2,457.5 649.6,459.2 647.5,459.6 645.8,460.8 643.8,461.2 642.1,462.5 639.6,462.9 637.5,462.1 635.4,463.3 633.3,465 630.8,466.2 628.3,466.7 626.7,467.9 625.4,470 624.2,472.1Z
M670.8,423.3 672.5,424.2 675,424.6 676.7,426.2 677.5,428.3 677.1,431.2 677.5,433.3 677.1,435.8 675,436.7 672.9,437.1 671.2,437.5 669.6,438.3 667.9,439.8 665.8,439 663.8,438.5 664.2,437.3 665.4,435.8 665.2,433.3 665.4,430.8 666.7,429.2 668.3,427.9 668.8,425.8 670,425Z
M661.5,450.4 663.8,449.2 666.2,448.3 668.3,447.1 670,445 671,442.5 671.7,440 672.9,437.9
M660.8,452.1 661.7,454.6 664.2,455.2 667.5,455.4 670.4,455 671.7,455.8 670,456.7 667.5,457.5 665.4,458.3 663.3,457.5 660.8,457.1 658.8,457.9 657.5,459.6 657.1,461.7 657.5,464.2 658.5,466.7 659.2,465.8 658.5,469.2 657.9,470.8 657.5,468.3 657.1,465.8 656.5,463.3 655.8,461.7 653.8,462.5 651.2,463.8 649.2,465.4 648.3,467.5 650,468.3 651.7,469.2 649.6,469.6 647.5,468.8 645.4,469.6 643.8,471.7 643.3,474.2 644.2,476.2 646.2,475.4 648.3,474.6 648.8,475.8 647.1,477.1 645.8,479.2 646.7,480.4
M684.6,411.7 683.3,413.8 682.5,416.2 680.4,417.5 678.8,419.6 677.5,421.7 676.5,422.9 678.3,424.2 681.2,424.6 683.8,423.8 685.4,421.2 686.7,418.8 688.8,416.2 690.8,413.3 692.3,411.2 690,410.8 686.7,410.8Z
M690.8,412.5 689.2,415 687.5,417.9 686.7,420.4 685.8,422.9 684.6,424.6
M681.7,425 681.2,427.5 682.5,430 684.6,431.2 685.4,430.4 683.8,428.8 682.9,426.2 684.2,424.6
M685,410.8 685.8,408.3 686.5,405 687.1,403.8 688,404 688.5,406.7 689.6,409.6 692.1,410.7
M693.8,417.1 694,420.8 693.3,425 692.7,428.3 692.3,425.8 692.9,421.7 693.3,418.3Z
M697.1,430.4 698.3,427.9 700,425.8 702.1,425 703.8,424.6 702.9,422.5 702.1,420 701.7,417.5 702.1,415 700.8,413.3 698.8,412.9 697.5,414.2 698.3,416.7 699.2,420 699.6,422.9 698.8,425.4 697.5,427.9Z
M703.8,413.8 705.8,414.2 707.9,414.6 708.8,412.5 710,410.8
M692.5,403.3 693.3,405.8 694.2,407.9 696.2,408.8 697.5,407.9 695.4,407.1 694.6,405 693.3,403.3Z
M701.2,405.4 703.3,404.6 704.8,406.2 704.2,408.3 702.1,409 700.4,407.5Z
M720.4,401.7 715.8,402.1 712.5,402.9 710,404.2 711.2,406.7 713.3,408.8 715.4,410 714.2,411.7 711.7,412.5 713.3,413.8 715.8,415.4 716.7,416.7 716,413.8
M595.9,565.4 598.8,560.6 602.4,556.3 606.7,552.7 608.9,550.5 607.5,548.3 604.6,549 602.4,547.6 603.8,545.4 606.7,546.1 610.4,544 614,541.1 617.6,539.6 620.5,541.1 623,538.2 624.1,536 621.2,538.2 618.6,540.3 617.2,538.2 616.2,534.5 617.2,530.2 619.1,526.6 620.5,523.7 622.7,521.5 624.9,520 622,520.8 619.1,520 618.6,516.4 620.5,515 622.4,517.1 624.1,518.6 623,515.7 626.3,515 629.9,514.2 633.6,513.5 635.7,512.1 632.8,512.8 628.5,514 626.3,511.3 625.6,507.7 627,504.1 629.2,501.2 632.1,499.7 635,499.5 632.1,498.3 631.4,496.1 633.6,493.9 636.5,491 640.1,489.6 644.4,488.4 648.8,488.1 649.5,487 645.9,487 642.3,487.4 639.8,486.7 642.3,483.8 645.2,480.9 646.6,480.2
M612.5,528.5 613.7,527.3 614.9,528.5 613.7,529.6Z
M706.8,565.4 709,560.6 710.4,556.3 708.2,550.5 709.7,544.7 711.1,538.9 712.6,534.5 715.5,530.9 718.4,527.3 720.6,523.7 724.2,523.7 728.5,525.1 735.8,524.4
M720.4,401.6 721.7,401.3 725.2,399.9 726.3,403 727.3,407.2 728.7,411.1 729.7,407.2 731.1,403 733.6,398.8 736.4,396 738.1,392.9 739.9,389 741.3,384.8 743.4,381.3 744.8,380.3 747.6,382 749.7,383.4 751.8,382 753.9,384.1 754.6,385.5 752.5,387.6 751.1,391.1 749.7,395.3 748.7,400.2 747.6,404.4 746.9,407.2 748.3,408.3 750.4,405.8 752.5,401.6 754.9,396.7 757.4,391.8 760.2,386.9 763,383.4 765.1,382.7 764.7,386.2 764.1,391.1 763.7,395.3 764.1,398.1 766.5,396 767.9,392.5 769.3,388.3 771.4,385.5 772.8,384.8 770.7,382.7 770,380.6 772.1,378.5 774.9,377.8 778.4,378.9 781.2,380.6 781.5,384.1 780.1,387.6 777.7,389 777,391.1 779.6,392.5 780.1,396 779.8,400.2 779.6,403.7 780.5,400.2 781.5,396 782.6,391.8 784,387.6 786.1,385.5 788.9,385.1 791.7,387.6 794.5,389.7 798.7,390.1 800.1,393.2 803.6,395.3 806.4,397.4 807.8,400.5 807.1,403 803.6,405.1 799.4,407.2 795.2,408.3 791,407.9 787.5,407.2 785.2,407.9 788.2,409.3 792.4,410.7 794.5,413.5 794.1,417 796.6,419.1 798.7,418.4 799.4,415.6 797.3,414.2 800.1,415.6 803.6,417.7 806.2,418.4 807.1,421.2 810.6,419.8 813.4,420.5 816.2,417.7 818.3,412.8 821.8,414.9 825.4,416.8 828.2,418.4 828.6,421.9 823.2,422.6 819.7,422.6 821.8,424.7 826.1,426.1 828.9,428.9 831.7,427.5 833.1,431 831.7,435.9 829.6,438 832.4,436.6 834.5,431.7 840.1,431 845.7,433.1 850.6,434.1
M807.1,421.2 806.4,424 804.3,424.7 801.5,422.6 800.1,420.5
M725.2,399.9 728.7,397.4 731.5,394.6 732.9,391.1 735,389 737.5,389.7 738.1,392.9
M716.5,391.8 721,389.7 725.9,388.3 730.1,385.9 731.5,387.6 729.4,391.1 726.6,393.9 723.1,395.7 719.6,395.3 717.5,393.9Z
M751.1,378.5 753.9,376.4 757.4,377.5 758.8,379.9 756,381.7 752.5,381.3Z
M839,430.8 846.1,433.2 852.2,433.2 859.4,436.3 866.5,441.4 873.7,447.5 879.8,453.7 883.9,458.2 889,459.8 893.5,463.9 897.2,465.9 898.2,463.9 899.2,468 903.3,472 908.4,475.1 910.4,481.2 911.9,488.4 913.5,492.5 912.5,498.6 909.4,504.7 904.3,509.8 898.2,513.9 891,517 883.9,518 876.7,517 870.6,513.9 862.5,512.9 855.3,510.8 848.2,507.8 844.1,503.7 839,502.3
M905.3,522.7 910.4,519 915.5,514.9 919.6,510.8 922.7,507.2 926.8,508.4 931.9,509.2 936,511.9 937.6,515.9 941.1,519 941.7,514.9 943.1,508.8 945.1,502.7 945.1,496.5 942.1,491.4 938,488.4 939.6,482.2 941.7,474.1 943.1,465.9 941.7,457.7 937,453.7 933.9,449.6 940,452 946.2,452.6 953.3,452 959.4,453.7 962.5,459.8 965.6,465.9 968.2,470 965.6,473.1 959.4,474.1 954.3,475.7 951.3,480.2 949.2,484.3 951.9,487.4 956.4,489.4 958,494.5 960.5,498.2 965.6,499 971.7,497.6 977.2,496.1 978.8,488.4 979.9,480.2 982.9,478.2 988,476.5 990.1,474.1 988.6,471 993.1,469 1000.3,463.9 1007.4,458.8 1015.6,455.7 1022.7,453.7 1024.8,457.7 1027.8,456.7 1028.9,452.6 1025.8,450.6 1030.9,446.5 1037,442.4 1042.1,440.4 1046.6,441 1041.1,442.4 1039.7,447.5 1041.1,453.7 1039.1,457.7 1035,459.4 1041.1,460.8 1047.2,461.8 1049.3,463.9 1052.3,457.7 1057.4,452.6 1063.6,450.6 1069.7,451.6 1074.8,451.2 1080.9,446.5
M924.9,500.2 926.6,499.8 927,501.8 925.3,502.3Z
M983.9,434.3 986,428.1 991.1,425.1 996.2,427.1 1001.3,431.2 1004.4,435.3 1003.3,439 1001.3,437.3 999.2,442.4 993.1,445.5 987,447.5 984.5,443.5Z
M1030.9,322 1029.9,331.2 1027.8,339.3 1024.8,343.4 1019.7,343.8 1016.6,347.5 1015.6,353.6 1016.6,360.8 1019.7,364.9 1025.8,366.3 1030.9,364.9 1035.6,365.9 1036,371 1039.1,374 1043.1,377.1 1039.1,378.1 1037,383.2 1041.1,386.3 1046.2,388.3 1052.3,390.4 1058.5,391.4 1063.6,392.4 1066.6,394 1067.6,389.4 1065.6,390.4 1070.7,392.4 1074.8,393.4 1078.5,389.4 1074.8,385.3 1070.7,380.2 1066.6,374 1062.5,366.9 1059.5,359.7 1056.4,353.6 1054.8,348.5 1056.4,342.4 1055.4,335.2 1056.4,329.1 1059.5,322
M1023.7,371 1026.8,368.9 1030.9,370.4 1032.3,375.1 1032.9,381.2 1030.9,379.1 1028.9,375.1 1024.8,373Z
M839,514.5 844.1,518 847.1,522.7
M839,502.3 833.2,499.3 828,495.7 827.3,492.4 823.1,491.1 817.6,490.5 821.3,492.9 824,496.6 826.8,500.3 830.4,503.9 833.2,507.6 835,509.4 832.3,512.2 836.8,513.6 841.4,515.8 844.5,519.5 846.4,524.1 845.6,529.6 843.8,534.2 842.3,535.1 844.5,538.8 846.4,543.3 847.5,548.8 847.8,554.3 850.6,558.4 855.2,559.8 858.8,562.6 861.6,567.2 866.2,569 870.8,570.8 873.5,572.3 878.1,569.9 880.5,566.3 879.4,560.8 876.3,558.9 871.7,558.9 868.9,555.3 866.2,550.7 864.3,547 866.2,544.3 867.6,540.6 870.2,539.7 873.5,541.1 876.3,543.3 879,546.6 883.6,548.5 888.2,550.7 892.8,552.9 895.5,554.7 898.3,553.4 899.2,549.8 901.9,550.7 904.3,548.8 903.2,544.8 901,542.4 898.8,538.8 897.3,534.2 898.3,529.6 901.9,526.8 905.6,523.2
M854.3,540.6 856.6,539.7 857.9,542.4 857,544.8 854.8,543.3Z
M706.7,565.4 704.8,569.6 701.9,572.8 698.4,576 694.4,578.4 691.2,580 688.8,582.4 685.6,584.6
M685.6,654.1 686.1,656.8 685.6,659.7 684,662.4 685.6,663.7
M750.4,539.2 750.9,544.8 749.6,547.7 746.4,546.4 743.5,548.8 741.6,552.8 739.2,556.8 736.8,560.8 733.9,564.8 730.4,568.8 726.9,572 723.7,575.2 721.1,578.4 720,582.4 717.6,584.8 714.4,586.1 711.2,586.7 708.8,584.8 708,586.7 710.9,588 710.4,591.2 708.3,594.4 707.7,598.4 708.8,603.2 709.9,608 709.6,612.8 711.5,617.6 712.5,622.4 711.5,628 710.9,633.6 710.4,639.2 709.3,642.4 709.9,644.8 712.8,644 715.2,646.4 717.6,648.8 720,651.2 723.2,650.4 725.6,652 727.5,654.4 729.6,655.2 732.8,654.9 736.8,653.9 741.6,652 746.4,650.4 751.2,648.5 756,646.9 758.4,644.8 760,646.4 763.2,642.4 763.7,644.8 766.4,645.3 770.4,643.7 774.4,644 778.4,643.2 782.4,641.1 784,642.4 782.9,644.8 784.8,647.2 787.2,649.6 790.4,651.2 794.4,650.7 796.8,652.8 798.4,655.2 799.2,656.8 796,655.5 791.2,654.4 788.8,654.9 788,656.8 784.8,657.6 781.6,659.2 779.2,658.7
M779.2,666.4 772,665.6 765.6,664.5 759.2,663.2 752.8,662.4 747.2,664 741.6,665.6 736.8,667.2 732.8,670.4 731.2,674.4 732,679.2 730.7,681.6 732,684 733.9,687.2 736.8,688.8 740,688 742.4,690.4 741.9,694.4 741.3,696.8 744,695.2 748,693.6 752.8,694.4 757.6,697.6 760,700.5
M717.6,676 720.5,675.2 722.4,672.8 724.8,673.6 726.4,676.8 724.8,679.2 722.7,680.8 720,679.2Z
M715.2,686.4 718.4,684 723.2,683.2 727.2,682.4 729.6,681.1 730.4,683.2 728,684.8 726.4,687.2 723.2,688.8 720,690.4 717.9,692.8 717.6,695.2 716,692 715.7,688.8Z
M767.5,676.8 770.4,674.7 774.4,674.1 775.5,677.6 775.2,682.4 773.9,687.2 772.8,690.4 771.2,686.4 769.6,682.4 768,679.2Z
M773.9,691.2 777.6,690.7 779.7,693.6 778.4,696.8 775.5,696.5 773.9,693.9Z
M691.2,650.4 693.6,647.2 696.5,646.4 698.4,648.8 697.6,652 694.9,653.3 692.8,652Z
M700,653 701.9,653.9 701.3,654.6Z
M711.2,652 714.7,651 713.8,652.3Z
M715.2,644.8 718.4,645.6 720.8,646.9 722.7,649.6 721.6,652 719.2,650.4 716.8,648Z
M742.9,543.5 744.8,541.9 747.2,543.2 745.6,545.1Z
M708,584.8 709.6,585.4 709,587Z
M679.2,700.5 683.2,696.8 689.6,693.9 688,697.6 686.4,700.5
M663.7,689.3 662.5,694.5 662.2,699.7 662.8,705 661.3,709.5 660.2,714 658.7,717.7 657.2,721.5 656.2,725.2 654.2,728.2 650.5,727.8 646.7,727.5 643,728.7 639.3,730.8
M666.7,706.8 665.5,711 664,715.5 662.5,720 661.3,724.5 660.2,727.2 659.5,723.7 660.7,719.2 662.2,714.7 663.7,710.7 665.5,707.2Z
M677.2,714 677.5,709.5 678.2,705 680.2,700.5 683.5,697.5 687.2,695.2 689.5,694.2 687.7,696.7 685,699.7 684.2,703.5 685.3,705.7 683.5,707.7 681.7,710.2 679.3,712.5Z
M639.3,767.5 644.5,765.7 649,764.2 653.5,762.7 657.2,761.7 659.5,759 663.2,756.7 667,754.5 671.5,753 676,752.2 679.7,752.7 682,754.5 683.8,755.2 682.7,753.3 680.8,753 680.5,754.5 681.7,757.5 683.8,759.7 687.2,760.5 691,759.3 693.7,757.2 695.2,754.5 695.8,750.7 697.7,750 700.7,749.2 703,747.3 705.2,744.7 706.7,741.7 707.8,738 707.2,733.5 706.7,729 706.3,723.7 706.7,718.5 708.2,714 710.2,709.5 711.7,705 714.2,702 718,700.5 721.7,699.3 724,702 726.2,705 728.5,708.7 730.7,711.7 733.7,713.2 737.5,712.2 740.2,709.5 741.7,705.7 741.2,701.2 740.8,696.7
M708.7,739.5 708.7,744 708.4,748.8 705.2,750.3 702.2,749.7
M849.9,889.2 857,884.9 864.1,882 871.3,878.9 878.4,877.3 881.9,875.9 886.7,876.6 891.4,875.9 890.3,878.9 884.3,881.3 878.4,883.7 879.6,888.4
M815.4,875.4 816.6,882.5 814.3,885.4 821.4,884.9 823.8,886.1 817.8,886.8 809.5,884.4 804.8,886.8
M993.6,888.4 999.5,883.7 1006.6,879.7 1013.8,877.3 1020.9,878.9 1028,878.2 1032.8,881.3 1033.9,888.4
M735.8,524.4 738.4,525 741.4,525.4 743.2,523.4 743.4,526.4 746.2,528.8 749.2,531.2 750.6,534.8 750.4,539.6"/>
<path class="border" d="M421.8,744.7 421.4,746.9 419.6,748.5 417.8,750.5 416.9,752.8 414.6,754.1 412.4,755 410.6,756.4 410.1,758.6 411.5,760.9 413.3,762.7 415.5,764 418.2,764 419.8,762.7 420.5,760.4 421.8,759.5 423.2,760.9 424.1,762.7 425.4,764 426.8,765.1 428.8,765.8 429.5,766.5
M518.7,815.3 519.6,818.7 522,820.7 524.7,821.3 526,824 528.7,825.7 530.7,828 534,828.7 535.3,831.3 536.7,832.9 539.3,832.7 541.3,830.7 542.7,832.7 542.7,835.3 546,838 549.3,840 552,840.4
M552,840.4 551.3,837.3 552,834.7 554,833.3 556.7,834 558.7,836 558,838.7 556.7,841.3 554.7,841.3 552,840.4
M556.7,841.3 558,840.7 560,843.3 562,845.3 566,845.7 570,846.7 574,847.6 576,848.7 575.3,852 574,855.3 572.7,859.3 571.3,863.3 570,867.3 569.3,870 566,871.3 563.3,872.7 562.7,875.3 560.7,878 558.7,881.3 556.7,884.7 555.3,886.7 554.3,889.3
M569.3,870 572.7,869.3 576.7,868.7 579.3,867.1 582.7,867.6 586,867.3 590,870
M535.3,810 538.7,810 541.3,809.3 544.7,810 547.3,812 550,814 552.4,816 551.3,818.7 552.7,820 554.7,818.7 554,816
M553.3,820 556,823.3 557.7,826 556.7,829.3 554.7,830.7 554,833.3
M554,816 554.7,814 555.3,810 554.7,806 554,803.3 556.7,802.7 560,802 561.3,799.3 563.3,797.3 564.7,794 564,789.3
M564.6,778 566,780.2 566.2,783.5 565.1,786.8 564,789.6
M580,751.1 583.8,751.1 587.1,752.2 590.4,750.7
M638.3,772 638.8,775.3 639.7,779.1 639.4,781.9 637.2,784.1 636.4,786.3 638.3,787.9 640.5,789.6 641.6,791.8 641,794.5 642.1,797.3 643.4,800.6
M610.4,676.9 611.8,673.4 612,669.2 611.8,665 613.2,660.8 615.5,657.3 618.3,655.5 619.7,650.3 620.4,645.4 619,641.2 617.6,637 618.3,633.5 620.4,632.8 622.5,631.4 623.5,627.9 622.5,624.4 619.7,621.6 616.9,619.5 616.5,616 617.6,611.8 617.9,606.2 616.9,600.6 616,595 616.2,590.1 614.8,585.2 615.5,581.7 616.9,577.5 618.8,573.3 621.1,569.8 623.9,567 627.4,565.9 631.6,566.3 635.1,567.7 637,564.2 637.2,559.3
M660,480.4 661.7,475.8 663.3,470.8 666.2,467.9 669.2,465.4 672.1,467.1 675,468.8 677.1,465 677.9,461.7 677.5,457.5 677.9,453.3 679.6,452.5 683.3,453.8 687.5,455 691.7,456.7 695.8,458.3 697.5,457.1 698.3,455 697.3,453.3 697.9,450.8 699.2,448.3 700.2,445.4 700,442.5 698.8,440.8 697.1,439.8 700,439.2 703.3,438.8
M703.3,438.8 705.8,439.2 707.5,437.9 707.3,435.4 708.3,433.3 710.4,432.3 712.5,432.5 714.2,434.2 715.8,437.1
M703.3,439.2 705,440.8 705.4,442.9 707.5,445.4 710,448.3
M636.5,565.4 635.7,559.2 632.8,555.6 635,549 637.2,543.2 639.4,537.4 640.1,531.6 640.8,524.4 641.3,517.1 644.4,515.7 648.1,514.2 649.5,510.6 648.8,507 651.7,504.1 654.6,499.7 657.5,495.4 660.1,491 658.9,486.7 656.8,482.3 658.2,479.4 660,480.5
M715.8,437.1 717.5,440.8 719.6,445 721,448.1 725.2,449.2 729.4,450.4 733.6,447.8 736.1,445.7 739.2,447.1 742.7,449.2 746.2,451.8 748.3,449.2 749.7,445 753.2,442.9 754.9,438 755.3,431 756.7,424 758.8,419.8 761.6,416.3 763.7,413.5 767.2,412.8 770,412.5 772.8,410 775.6,409.3 777.7,411.7 780.5,414.2 784,417 788.2,420.1 790.3,423.3 790.8,426.8 788.9,431 787.1,435.2 786.6,438.7 784,441.5 781.9,443.4
M781.9,443.4 785.4,441.1 787.5,436.6 789.6,431.7 792.4,430.3 795.2,428.9 798,426.8 799.7,423.3 800.1,420.5
M781.9,443.4 784.7,444.3 784,447.8 782.6,452 782.4,456.2 784,461.8 787.5,463.9 791,466.1 793.8,471 796.6,475.9 798.3,480.5
M709.9,448.3 712.6,449.9 716.8,454.1 722.4,456.2 726.6,459.7 728.7,463.9 731.5,467.5 733.6,470.3 732.5,474.5 732.2,480.5
M798,480.5 798,478.3 794.7,483.8 791,489.3 788.8,494.8 789.2,500.3 791.9,506.7 794.7,513.1 797.4,519.5 799.3,525 798.3,528.7 795.6,529 795,534.2 794.3,538.8 796.1,539.7 794.3,542.4 794.7,547 798.3,549.8 798,554.3 799.8,558.9 802.9,561.7 803.5,566.3 801.1,570.8 798,574.1 801.1,578.2 805.7,582.2 810.3,586.4 813.4,591.9 811.5,598.3 808.4,604.8 803.8,611.2 798.3,617.6 792.8,624.9 787.3,631.3 779.1,638.3
M779.2,658.7 778.1,661.6 779.2,666.4 777.6,669.6 776,673.6
M772.8,697.6 772,700.5
M779,638.2 777.6,642.1 776,643.7
M772,700.5 771.5,701.8 774.6,706.3 775.9,710 774,715.5 776.4,719.2 778.3,723.8 779.5,728.3 783.8,730.5 787.4,731.1 791.1,732.9 792,736.6 796.6,734.8 801.2,734.2 804.8,736.6 807.6,740.3 807.6,744.8 808.5,748.5 805.8,751.3 808.5,755.8 810.3,761.3 814,765 816.8,766.8 816.2,770.5 820.4,771.4 824.1,774.2 825.4,777.8 823.2,780.6
M779.5,728.9 776.4,730.5 773.7,734.8 769.1,735.3
M760,700.8 763.7,703.2 767.5,702 771.2,702.7 773.5,699 775,696
M707.2,729.3 710.5,726.7 715,724.5 719.5,723.7 724,724.2 728.5,725.2 733,724.8 737.5,726 742,725.7 745,724.2 747.2,726.7 751,728.2 754.7,730.2 757.7,732.7 760.7,735.7 763.3,737.7 766.7,735 769,735
M763.3,737.7 762.7,741.7 764.8,744 763.3,746.7 760,747.7 757.7,750 755.5,753 754.3,757.5 753.2,760.5 752.5,762.7 750.2,763.5 747.2,764.2 745,766.2 742,767.7 738.2,768 734.5,768.3 732.2,768.3
M752.5,763 753.7,761.7 754.9,762.9 753.7,764.2Z
M695.8,759.3 703,759.7 710.5,760 718,760.2 724,760.5
M708.7,739.5 709,743.2 711.2,745.5 715,747.3 719.5,748.2 722.8,748.5 724.7,750.7 724.3,754.5 723.7,758.2 724,760.5 727.7,761.7 730.7,763.8 732.2,768.3
M732.2,768.3 733.3,773.2 734.8,778.5 736.3,783.7 736,788.2 732.2,790.8 729.2,793.5 728.5,796.2 731.5,798 733.3,801.7 732.7,806.2
M732.7,806.2 736.7,805.5 740.5,802.5 745.7,801.7 751,801.3 757,802.2 763,803.7 769,805.2 772,807.3 775.7,807 780.2,807.7 784,808.8 787.7,807 790.7,810 796,809.2 799.7,808.5 802.7,811.8 804.2,808.5 805,804.7 807.2,801 811,799.2 815.5,798.3 820.7,799.5
M732.7,806.2 733.3,810 735.2,814.5 737.5,819 737.8,823.5 735.2,825.7 731.5,828 727.7,832.5 724.7,836.2 722.2,840.4
M820.7,780 814,780.3 811,782.2 812.5,786 814,790.5 814.7,795 816.2,798
M642.2,801 641.5,803.2 643.3,807 645.2,811.5 644.8,816 646,817.5
M646,817.5 649.7,820.5 654.2,822 658.7,822.7 658,825.7 661,828.7 662.5,831 664.7,826.5 667.7,826.5 670,827.7 673.7,828 673,831 677.5,833.2 681.2,834.7 683.5,837.7 685,840.4
M646,817.5 643,818.7 639.3,817.5
M688,840.4 690.2,838.5 691.7,840.4
M645,817 640,816.4 638,818 632,821 626,823.6 620,826 616.4,828 617.6,832 619.6,836.4 622.4,841 626,845 630,849 633.6,852.4 635,854.4
M685,840.4 688,841 690,839 693,842.4 695,845
M635,854.4 639,853.6 643,851 646,849 650,850 655,851.6 660,852.4 665,853.6
M665,853.6 668,851 672,849.6 676,847 679,843 682,841 685,840.4
M695,845 698,843.6 702,842.4 707,843 711,842 715,843.6 719,846 722,847.6 725,848
M722.2,840.4 724,842.4 725,848 723,852 719,857 718,858
M719,858 714,857 710,855 706,855.6 701,856 698,859 694,861 690,860.4 686,862.4 682,865.6 678,867 673,866.4 669,864 666.4,861
M665,853.6 665.6,857.6 666.4,861 667,865 664,867 661,869 662.4,872 660,875 659,880 658,883
M719,858 723,860.4 727,863 732,863.6 738,864.4 743,865.6 746,867.6 750,866 755,864.4 760,862 765,859 770,857.6 774,856.4 778,858.4 782,861 787,864 790,867 791,872 793,877 795,881 797,886 796,888 790,887.6 787,887
M727,863 723,867 719,871 716,876 713,882 710,887 708,891
M765,859 768,864 771,870 774,875 777,879 779,883 779.6,891
M811,883.6 806,884 803,886 802,890
M590,869.6 591,869 595,872 598,871 600,872.4 605,872 610,871 615,870 618,868.4 622,869.6 625,871 623.6,867 622.4,863 625,860.4 629,858 633,856 635,854.4
M590,870 591,874 590,878 593,880 597,879 600,881 605,879 610,878 616,877.6 619,881 624,883 630,884 636,885 641,885.6 646,884 652,882.4 658,883 660,886 662.4,888.4 664,890.6
M600,881 598,884 595,883 596,887 593,889.6
M641,885.6 638,888 634,889 630,890.6
M582,889.6 586,887.6 589,886 590,888.4
M823.8,779.2 817.8,780.4 812.4,781.6 811.9,786.3 814.3,792.3 814.7,798.2 821.4,796.5 828.5,795.1 835.6,794.6 839.2,799.4 842.3,804.1 840.4,810.1 846.3,813.6 851.1,816.5 853.4,823.1 857,826 862.9,827.9 868.9,827.4 873.6,826.7 877.2,831.4 881.9,833.1 887.9,835 893.8,837.4 899.8,840.2 900.9,844.5 897.4,848.1 898.6,852.8 896.2,857.6 898.6,862.3 893.8,864.7 887.9,865.4 883.1,869.4 881.9,875.4
M1081.4,816 1073.1,816.5 1067.2,817.2 1061.3,821.9 1056.5,823.1 1051.8,819.6 1048.2,817.2 1047.5,823.1 1045.8,820.8 1042.3,813.6 1036.3,809.4 1029.2,808.9 1023.3,805.3 1017.3,808.9 1013.8,807.7 1009,804.6 1004.3,808.9 999.5,813.6 994.8,816.5 990,821.9 987.6,823.1 988.8,831.4 986.4,834.5 982.9,833.8 980,829.1 976.9,826 973.4,829.1 972.9,833.1 969.8,835 968.6,842.1 969.8,848.1 967.4,854 969.8,859.9 973.4,865.9 979.3,867.8 984.1,870.6 987.6,876.6 990,882.5 986.4,883.7 990,886.8 993.6,888.4
M732.2,480.4 731.4,481.4 734.2,483.8 733.6,487.4 733.4,491.6 734.8,495.2 736.6,498.8 736,503.6 734.2,508.4 733.8,513.2 735.4,516.8 737.2,520.4 738.4,524.6"/>
<line class="grid" x1="290.5" y1="323.5" x2="290.5" y2="888.5"/>
<line class="grid" x1="493.5" y1="323.5" x2="493.5" y2="888.5"/>
<line class="grid" x1="696.5" y1="323.5" x2="696.5" y2="888.5"/>
<line class="grid" x1="900.5" y1="323.5" x2="900.5" y2="888.5"/>
<line class="grid" x1="150.5" y1="411.5" x2="1080.5" y2="411.5"/>
<line class="grid" x1="150.5" y1="545.5" x2="1080.5" y2="545.5"/>
<line class="grid" x1="150.5" y1="655.5" x2="1080.5" y2="655.5"/>
<line class="grid" x1="150.5" y1="749.5" x2="1080.5" y2="749.5"/>
<line class="grid" x1="150.5" y1="833.5" x2="1080.5" y2="833.5"/>
</g>
<g id="volcano" fill="none" stroke="#000" stroke-linecap="butt">
<path d="M306.7,553.3 L310.7,542 L320.4,542 L324.4,553.3" stroke-width="1.5" stroke-linejoin="miter"/>
<path d="M306.2,553.2 H312.8 M318.1,553.2 H324.9" stroke-width="2.6"/>
<path d="M310.9,541.6 L308.1,535 M315.5,542 V534.9 M320.2,541.6 L323,535" stroke-width="1.9"/>
</g>
<rect x="150.5" y="323.5" width="930.0" height="565.0" fill="none" stroke="#000" stroke-width="1.1"/>
<text class="t14 mid" x="289.05" y="313.9">20°W</text>
<text class="t14 mid" x="289.05" y="908.2">20°W</text>
<text class="t14 mid" x="492.05" y="313.9">0°</text>
<text class="t14 mid" x="492.05" y="908.2">0°</text>
<text class="t14 mid" x="695.05" y="313.9">20°E</text>
<text class="t14 mid" x="695.05" y="908.2">20°E</text>
<text class="t14 mid" x="899.05" y="313.9">40°E</text>
<text class="t14 mid" x="899.05" y="908.2">40°E</text>
<text class="t14 end" x="144.6" y="417.0">70°N</text>
<text class="t14" x="1084.9" y="417.0">70°N</text>
<text class="t14 end" x="144.6" y="549.8">65°N</text>
<text class="t14" x="1084.9" y="549.8">65°N</text>
<text class="t14 end" x="144.6" y="659.8">60°N</text>
<text class="t14" x="1084.9" y="659.8">60°N</text>
<text class="t14 end" x="144.6" y="754.8">55°N</text>
<text class="t14" x="1084.9" y="754.8">55°N</text>
<text class="t14 end" x="144.6" y="838.0">50°N</text>
<text class="t14" x="1084.9" y="838.0">50°N</text>
<text class="t10" x="60.3" y="974.6">© Met Office Crown Copyright</text>
</svg></body></html>
